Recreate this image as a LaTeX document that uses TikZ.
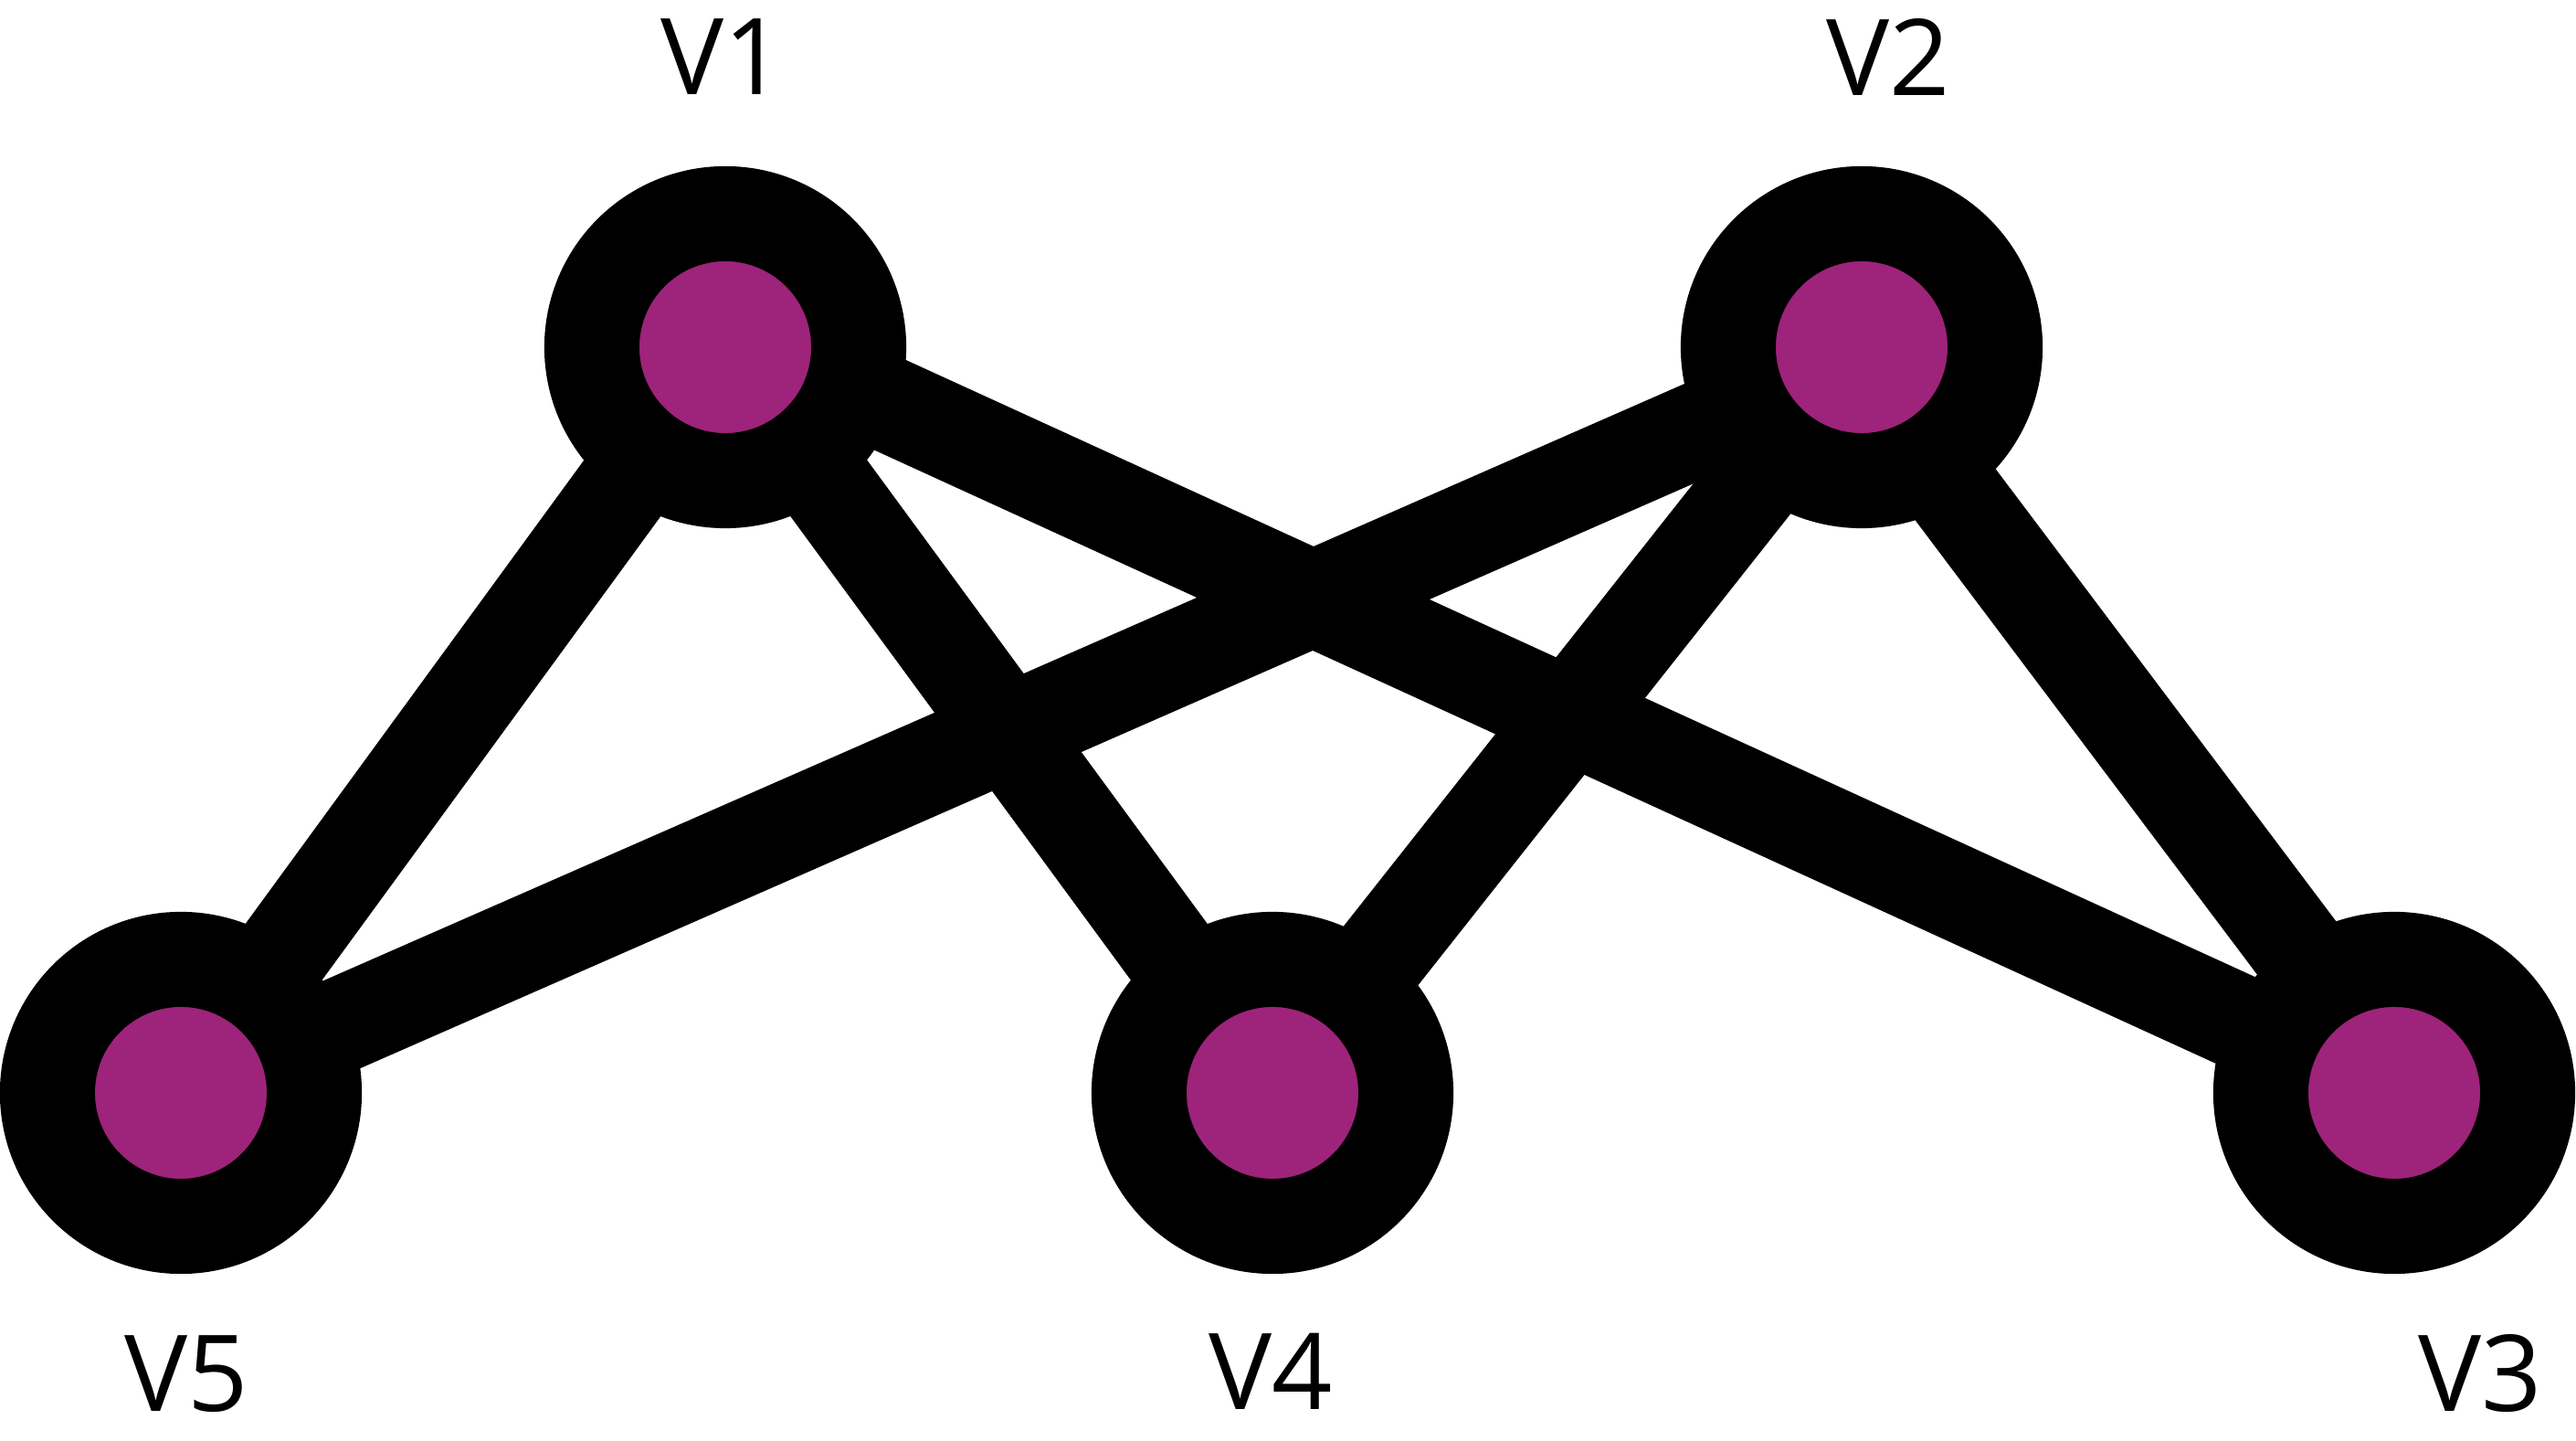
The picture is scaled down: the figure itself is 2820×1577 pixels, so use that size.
\documentclass[tikz,border=0pt]{standalone}
\usepackage{fontspec}
\setmainfont{Open Sans}
\usetikzlibrary{backgrounds}
\definecolor{vertexfill}{RGB}{158,35,122}
\begin{document}
\begin{tikzpicture}[
  x=0.01cm, y=-0.01cm,
  vertex/.style={circle, inner sep=0pt, minimum size=2.92cm,
                 fill=vertexfill, draw=black, line width=1.04cm},
  edge/.style={draw=black, line width=1.04cm},
  vlabel/.style={anchor=base, inner sep=0pt,
                 font=\fontsize{33pt}{40pt}\selectfont}
]
\useasboundingbox (0,0) rectangle (2820,1577);

% vertices
\node[vertex] (v1) at (794,380)  {};
\node[vertex] (v2) at (2038,380) {};
\node[vertex] (v3) at (2621,1196) {};
\node[vertex] (v4) at (1393,1196) {};
\node[vertex] (v5) at (198,1196) {};

% labels
\node[vlabel] (l1) at (791,104)   {V1};
\node[vlabel] (l2) at (2067,105)  {V2};
\node[vlabel] (l3) at (2715,1545) {V3};
\node[vlabel] (l4) at (1391,1543) {V4};
\node[vlabel] (l5) at (204,1545)  {V5};

% edges, kept beneath the vertices
\begin{scope}[on background layer]
  \draw[edge] (v1.center) -- (v5.center);
  \draw[edge] (v1.center) -- (v4.center);
  \draw[edge] (v2.center) -- (v4.center);
  \draw[edge] ([shift={(7,-16)}]v1.center) -- (v3.center);
  \draw[edge] ([shift={(4,10)}]v2.center) -- ([shift={(1,2)}]v5.center);
  \draw[edge] ([shift={(-12,9)}]v2.center) -- ([shift={(8,-6)}]v3.center);
\end{scope}
\end{tikzpicture}
\end{document}
